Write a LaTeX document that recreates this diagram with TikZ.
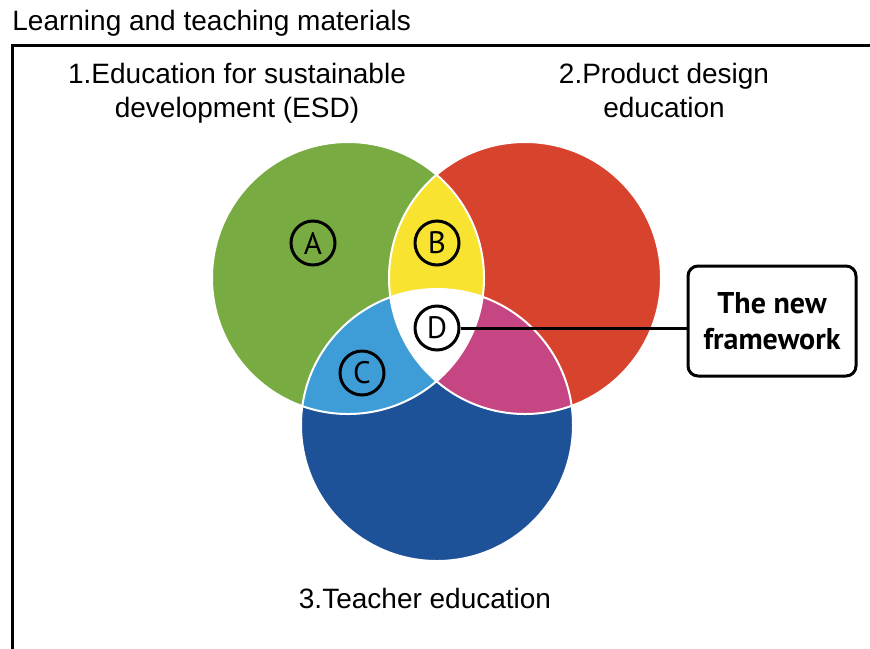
\documentclass[tikz,border=0pt]{standalone}
\usepackage{fontspec}
\setmainfont{Liberation Sans}
\newfontfamily\myriad{PT Sans}
\usetikzlibrary{positioning}

\definecolor{esdgreen}{RGB}{120,172,66}
\definecolor{pdred}{RGB}{216,67,46}
\definecolor{teblue}{RGB}{29,82,153}
\definecolor{abyellow}{RGB}{249,227,49}
\definecolor{aclightblue}{RGB}{62,157,214}
\definecolor{bcmagenta}{RGB}{197,70,130}

\begin{document}
\begin{tikzpicture}[x=0.5pt,y=0.5pt]
        \tikzstyle{every node}+=[inner sep=0pt]
        \tikzstyle{label}=[font=\fontsize{14}{17}\selectfont, align=center]
        \tikzstyle{region}=[draw=black, circle, line width=1.5pt, minimum size=22pt, font=\myriad\fontsize{15.5}{18}\selectfont]
        \tikzstyle{fwbox}=[draw=black, rounded corners=5pt, line width=1.5pt, minimum width=84pt, minimum height=55pt, align=center, font=\myriad\bfseries\fontsize{15}{18}\selectfont]
        \useasboundingbox (0,0) rectangle (870,-648);
        \draw (12,-30) node [anchor=base west, font=\fontsize{14}{17}\selectfont] (title) {Learning and teaching materials};
        \draw [black, line width=1.5pt] (12,-680) -- (12,-45) -- (900,-45);
        % the three circles
        \fill [esdgreen] (348,-278) circle (136);
        \fill [pdred] (525,-278) circle (136);
        \fill [teblue] (437,-425) circle (136);
        \begin{scope}
            \clip (348,-278) circle (136);
            \fill [abyellow] (525,-278) circle (136);
            \fill [aclightblue] (437,-425) circle (136);
        \end{scope}
        \begin{scope}
            \clip (525,-278) circle (136);
            \fill [bcmagenta] (437,-425) circle (136);
            \clip (348,-278) circle (136);
            \fill [white] (437,-425) circle (136);
        \end{scope}
        \draw [white, line width=1pt] (348,-278) circle (136);
        \draw [white, line width=1pt] (525,-278) circle (136);
        \draw [white, line width=1pt] (437,-425) circle (136);
        % regions
        \node [region] (A) at (313,-243) {A};
        \node [region] (B) at (437,-243) {B};
        \node [region] (C) at (362,-373) {C};
        \node [region, fill=white] (D) at (437,-328) {D};
        \node [fwbox] (newfw) at (772,-321) {The new\\framework};
        \draw [black, line width=1.5pt] (D.east) -- (D.east -| newfw.west);
        % labels
        \node [label, anchor=north] (esd) at (237,-62.5) {1.Education for sustainable\\development (ESD)};
        \node [label, anchor=north] (pde) at (664,-62.5) {2.Product design\\education};
        \node [label, anchor=base] (ted) at (425,-608) {3.Teacher education};
    \end{tikzpicture}
\end{document}
